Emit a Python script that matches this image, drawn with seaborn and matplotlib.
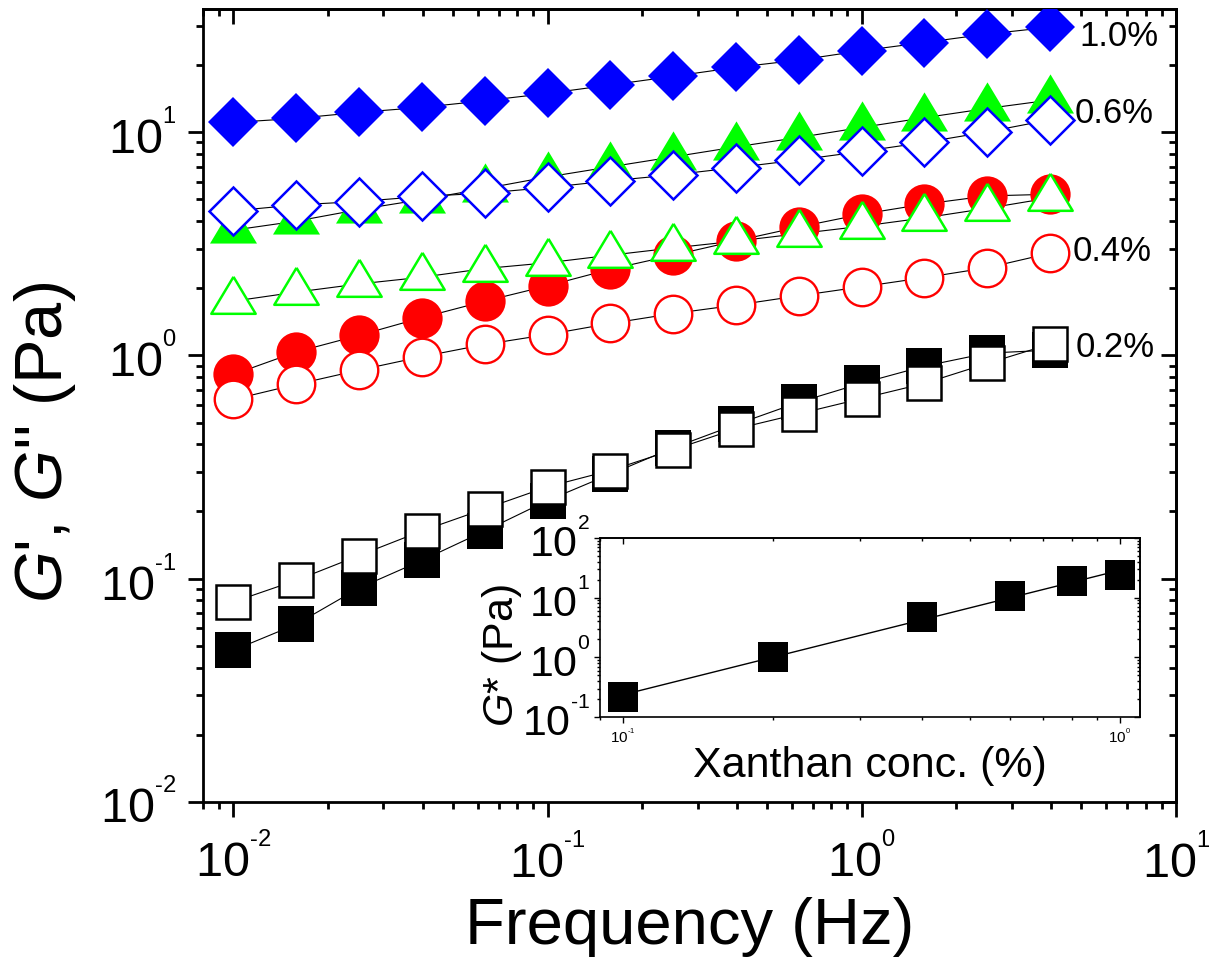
import numpy as np
import matplotlib
matplotlib.use("Agg")
import matplotlib.pyplot as plt
from matplotlib.ticker import NullFormatter, FuncFormatter
import seaborn as sns

# ---------------- data ----------------
freq = [0.01, 0.0158, 0.0251, 0.0398, 0.0631, 0.1, 0.158, 0.251, 0.398, 0.631, 1.0, 1.58, 2.51, 3.98]
g1_10 = [11.05, 11.52, 12.26, 12.91, 13.82, 14.91, 16.25, 17.78, 19.5, 21.03, 23.15, 25.2, 27.5, 29.5]
g2_10 = [4.44, 4.72, 4.89, 5.15, 5.33, 5.65, 6.05, 6.44, 6.94, 7.51, 8.19, 8.99, 10.03, 11.36]
g1_06 = [3.64, 3.99, 4.50, 4.99, 5.59, 6.30, 6.99, 7.75, 8.59, 9.47, 10.5, 11.6, 12.77, 13.92]
g2_06 = [1.75, 1.92, 2.09, 2.24, 2.45, 2.60, 2.81, 3.03, 3.25, 3.51, 3.79, 4.13, 4.56, 5.08]
g1_04 = [0.822, 1.035, 1.23, 1.476, 1.75, 2.05, 2.43, 2.81, 3.26, 3.76, 4.29, 4.76, 5.18, 5.27]
g2_04 = [0.635, 0.741, 0.859, 0.987, 1.12, 1.24, 1.39, 1.54, 1.68, 1.85, 2.03, 2.23, 2.47, 2.87]
g1_02 = [0.0478, 0.0624, 0.0908, 0.1208, 0.1637, 0.224, 0.2936, 0.3855, 0.4905, 0.6174, 0.751, 0.895, 1.024, 1.056]
g2_02 = [0.0787, 0.0982, 0.127, 0.1637, 0.2056, 0.258, 0.305, 0.378, 0.469, 0.548, 0.641, 0.749, 0.921, 1.124]
conc_labels = ["1.0%", "0.6%", "0.4%", "0.2%"]

conc = [0.1, 0.2, 0.4, 0.6, 0.8, 1.0]
gstar = [0.22, 1.0, 4.8, 10.8, 19.0, 24.0]

# ---------------- style ----------------
sns.set_theme(style="ticks")
plt.rcParams.update({
    "font.family": ["Liberation Sans", "DejaVu Sans"],
    "mathtext.fontset": "custom",
    "mathtext.rm": "Liberation Sans",
    "mathtext.it": "Liberation Sans:italic",
    "mathtext.bf": "Liberation Sans:bold",
    "axes.unicode_minus": False,
    "axes.edgecolor": "black",
    "xtick.color": "black",
    "ytick.color": "black",
    "text.color": "black",
    "axes.labelcolor": "black",
})


def pow10(v, pos=None):
    if v <= 0:
        return ""
    e = int(np.round(np.log10(v)))
    if abs(np.log10(v) - e) > 1e-6:
        return ""
    es = (r"\text{-}" + str(-e)) if e < 0 else str(e)
    return r"$\mathdefault{10^{{}^{" + es + r"}}}$"


W, H = 1209, 970
fig = plt.figure(figsize=(W / 100, H / 100), dpi=100)
fig.patch.set_facecolor("white")
ax = fig.add_axes([203 / W, 1 - 803 / H, 973 / W, 793 / H])
ax.set_xscale("log")
ax.set_yscale("log")

GREEN = "#00FF00"
tri = [(0, 2 / 3), (-0.6, -1 / 3), (0.6, -1 / 3), (0, 2 / 3)]
series = [
    (g1_02, "s", "black", "black", 26, 0.0),
    (g2_02, "s", "white", "black", 24, 1.8),
    (g1_04, "o", "red", "red", 29, 0.0),
    (g2_04, "o", "white", "red", 27, 1.7),
    (g1_06, tri, GREEN, GREEN, 37.6, 0.0),
    (g2_06, tri, "white", GREEN, 35.5, 1.8),
    (g1_10, "D", "blue", "blue", 25.5, 0.0),
    (g2_10, "D", "white", "blue", 24, 1.8),
]

for ys, *_ in series:
    sns.lineplot(x=freq, y=ys, color="black", linewidth=0.8, ax=ax, zorder=2)
for i, (ys, m, fc, ec, ms, mew) in enumerate(series):
    sns.lineplot(x=freq, y=ys, ax=ax, linestyle="none", marker=m, markersize=ms,
                 markerfacecolor=fc, markeredgecolor=ec, markeredgewidth=mew,
                 zorder=3 + i)

ax.set_xlim(0.008, 10)
ax.set_ylim(0.01, 35.6)
ax.xaxis.set_major_formatter(FuncFormatter(pow10))
ax.yaxis.set_major_formatter(FuncFormatter(pow10))
ax.xaxis.set_minor_formatter(NullFormatter())
ax.yaxis.set_minor_formatter(NullFormatter())

ax.tick_params(which="both", direction="out", width=2, top=False, right=False,
               labelsize=35)
ax.tick_params(axis="x", pad=12)
ax.tick_params(axis="y", pad=8)
ax.tick_params(which="major", length=11)
ax.tick_params(which="minor", length=5)
for s in ax.spines.values():
    s.set_linewidth(2)
    s.set_visible(True)

secx = ax.secondary_xaxis("top")
secx.tick_params(which="both", direction="in", width=2, labeltop=False)
secx.tick_params(which="major", length=11)
secx.tick_params(which="minor", length=5)
secx.spines["top"].set_linewidth(2)
secy = ax.secondary_yaxis("right")
secy.tick_params(which="both", direction="in", width=2, labelright=False)
secy.tick_params(which="major", length=11)
secy.tick_params(which="minor", length=5)
secy.spines["right"].set_linewidth(2)

ax.set_xlabel("Frequency (Hz)", fontsize=47)
ax.xaxis.set_label_coords(0.5, -0.118)
ax.set_ylabel(r"$G$', $G$'' (Pa)", fontsize=48)
ax.yaxis.set_label_coords(-0.128, 0.454)

label_pos = [(0.901, 0.966), (0.896, 0.870), (0.894, 0.695), (0.897, 0.575)]
for txt, (tx, ty) in zip(conc_labels, label_pos):
    ax.text(tx, ty, txt, transform=ax.transAxes, fontsize=25, va="center",
            ha="left", zorder=20)

# ---------------- inset ----------------
axi = fig.add_axes([600 / W, 1 - 718 / H, 540 / W, 179 / H])
axi.set_facecolor("white")
axi.set_xscale("log")
axi.set_yscale("log")
coef = np.polyfit(np.log10(conc), np.log10(gstar), 1)
xfit = np.array([conc[0], conc[-1]])
yfit = 10 ** np.polyval(coef, np.log10(xfit))
sns.lineplot(x=xfit, y=yfit, color="black", linewidth=1.0, ax=axi, zorder=2)
sns.lineplot(x=conc, y=gstar, ax=axi, linestyle="none", marker="s", markersize=21.5,
             markerfacecolor="black", markeredgecolor="black", markeredgewidth=0,
             zorder=3)
axi.set_xlim(0.0899, 1.097)
axi.set_ylim(0.1, 100)
axi.xaxis.set_major_formatter(FuncFormatter(pow10))
axi.yaxis.set_major_formatter(FuncFormatter(pow10))
axi.xaxis.set_minor_formatter(NullFormatter())
axi.yaxis.set_minor_formatter(NullFormatter())
axi.tick_params(which="both", direction="out", width=1, top=False, right=False, pad=3)
axi.tick_params(which="major", length=4)
axi.tick_params(which="minor", length=2.5)
axi.tick_params(axis="y", labelsize=31)
axi.tick_params(axis="x", labelsize=11)
for s in axi.spines.values():
    s.set_linewidth(1.2)
    s.set_visible(True)
sx = axi.secondary_xaxis("top")
sx.tick_params(which="both", direction="in", width=1, labeltop=False)
sx.tick_params(which="major", length=4)
sx.tick_params(which="minor", length=2.5)
sx.spines["top"].set_linewidth(1.2)
sy = axi.secondary_yaxis("right")
sy.tick_params(which="both", direction="in", width=1, labelright=False)
sy.tick_params(which="major", length=4)
sy.tick_params(which="minor", length=2.5)
sy.spines["right"].set_linewidth(1.2)
axi.set_xlabel("Xanthan conc. (%)", fontsize=31, labelpad=0)
axi.set_ylabel(r"$G$* (Pa)", fontsize=31)
axi.yaxis.set_label_coords(-0.14, 0.35)

fig.savefig("out.png", dpi=100)
